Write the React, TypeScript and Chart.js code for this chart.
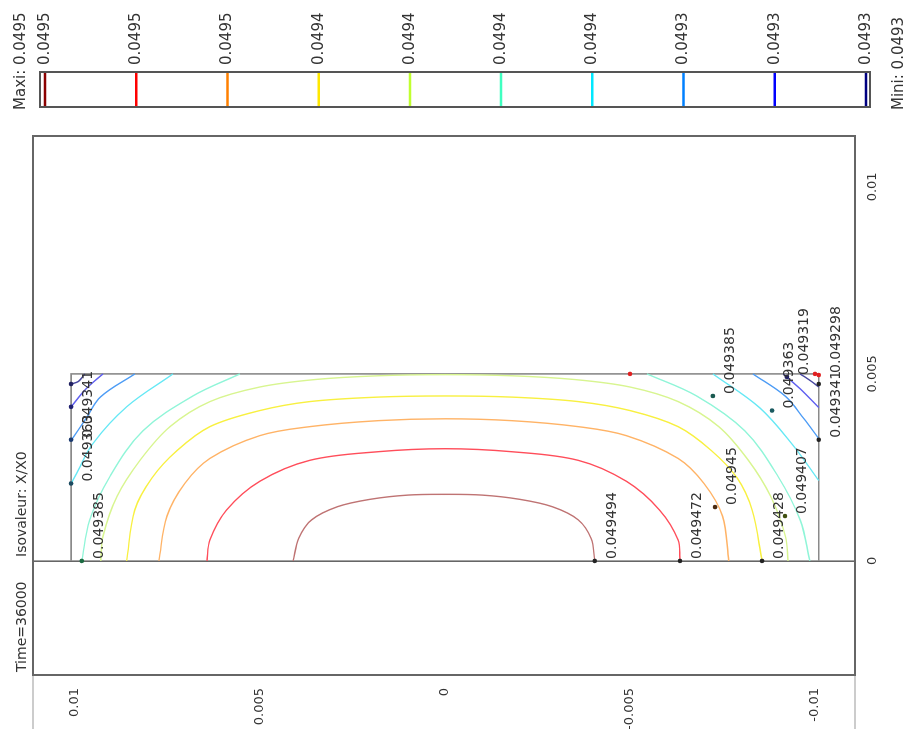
import React, { useEffect, useRef } from "react";
import { Chart, registerables } from "chart.js";

Chart.register(...registerables);

// ---- Data (original, un-rotated coordinates: x = radial, y = axial) ----
const titleTime = "Time=36000";
const titleIso = "Isovaleur: X/X0";
const maxiText = "Maxi: 0.0495";
const miniText = "Mini: 0.0493";

const xTicks = [0, 0.005, 0.01];
const xTickLabels = ["0", "0.005", "0.01"];
const yTicks = [-0.01, -0.005, 0, 0.005, 0.01];
const yTickLabels = ["-0.01", "-0.005", "0", "0.005", "0.01"];
const xMin = -0.00305;
const xMax = 0.01136;
const yMin = -0.01108;
const yMax = 0.01113;

const legendLabels = ["0.0495", "0.0495", "0.0495", "0.0494", "0.0494", "0.0494", "0.0494", "0.0493", "0.0493", "0.0493"];
const legendColors = ["#8b0000", "#ff0000", "#ff8000", "#ffe800", "#c0ff30", "#40ffc0", "#00e8ff", "#0080ff", "#0000ff", "#000080"];
const curveColors = ["#bf7373", "#ff4d5a", "#ffb366", "#f8f040", "#d8f590", "#90f5d8", "#66e8f5", "#4d9cf5", "#6060f0", "#4848a0"];

const domainX = [0, 0.005, 0.005, 0];
const domainY = [0.0101, 0.0101, -0.0101, -0.0101];

const iso049494: [number, number][] = [
  [0, 0.0041], [0.0006, 0.00395], [0.0011, 0.0036], [0.00145, 0.0029], [0.00165, 0.002], [0.00176, 0.001], [0.00178, 0],
  [0.00176, -0.001], [0.00165, -0.002], [0.00145, -0.0029], [0.0011, -0.0036], [0.0006, -0.00395], [0, -0.00405],
];
const iso049472: [number, number][] = [
  [0, 0.00643], [0.00056, 0.00635], [0.00136, 0.0059], [0.00213, 0.005], [0.00269, 0.00365], [0.00292, 0.0018], [0.003, 0],
  [0.00292, -0.0018], [0.00269, -0.0036], [0.00213, -0.0049], [0.00136, -0.0058], [0.00056, -0.0063], [0, -0.00635],
];
const iso04945: [number, number][] = [
  [0, 0.00773], [0.0012, 0.00751], [0.00207, 0.00703], [0.00274, 0.00635], [0.00335, 0.005], [0.00359, 0.00365], [0.00375, 0.0018], [0.0038, 0],
  [0.00375, -0.0018], [0.00359, -0.0036], [0.00335, -0.0049], [0.00274, -0.0063], [0.00207, -0.007], [0.0012, -0.0075], [0, -0.00767],
];
const iso049428: [number, number][] = [
  [0, 0.0086], [0.00136, 0.00838], [0.00221, 0.00792], [0.00295, 0.00724], [0.00359, 0.00635], [0.00402, 0.005], [0.00426, 0.00365], [0.00438, 0.0018], [0.00441, 0],
  [0.00438, -0.0018], [0.00426, -0.0036], [0.00402, -0.005], [0.00359, -0.0063], [0.00295, -0.0072], [0.00221, -0.0079], [0.00136, -0.0083], [0, -0.00857],
];
const iso049407: [number, number][] = [
  [0, 0.0093], [0.00066, 0.00924], [0.00173, 0.00886], [0.00269, 0.00824], [0.00359, 0.00743], [0.00426, 0.00635], [0.00465, 0.005], [0.00485, 0.0035], [0.00495, 0.0018], [0.00498, 0],
  [0.00495, -0.0018], [0.00485, -0.0035], [0.00465, -0.005], [0.00426, -0.0063], [0.00359, -0.0074], [0.00269, -0.0082], [0.00173, -0.0088], [0.00066, -0.0092], [0, -0.00927],
];
const iso049385Left: [number, number][] = [[0, 0.00981], [0.00109, 0.0096], [0.00226, 0.00905], [0.00348, 0.00816], [0.00441, 0.00681], [0.005, 0.00554]];
const iso049385Right: [number, number][] = [[0.005, -0.00546], [0.00441, -0.0068], [0.00348, -0.0081], [0.00226, -0.009], [0.00109, -0.0096], [0, -0.00986]];
const iso049363Left: [number, number][] = [[0.005, 0.00735], [0.00412, 0.0086], [0.00314, 0.00951], [0.00234, 0.00995], [0.00207, 0.0101]];
const iso049363Right: [number, number][] = [[0.005, -0.00724], [0.0041, -0.0085], [0.0031, -0.0094], [0.00215, -0.0101]];
const iso049341Left: [number, number][] = [[0.005, 0.00838], [0.00439, 0.0093], [0.0038, 0.0097], [0.00322, 0.0101]];
const iso049341Right: [number, number][] = [[0.005, -0.00832], [0.0044, -0.0092], [0.0038, -0.0097], [0.00327, -0.0101]];
const iso049319Left: [number, number][] = [[0.005, 0.00924], [0.0046, 0.0097], [0.00412, 0.0101]];
const iso049319Right: [number, number][] = [[0.005, -0.00914], [0.0046, -0.0096], [0.0041, -0.0101]];
const iso049298Left: [number, number][] = [[0.005, 0.00973], [0.0048, 0.0099], [0.00473, 0.0101]];
const iso049298Right: [number, number][] = [[0.005, -0.0096], [0.0048, -0.0099], [0.00465, -0.0101]];

const markerX = [0, 0, 0.00144, 0, 0.0012, 0.00441, 0.00402, 0.00492, 0.00497, 0.00324, 0, 0.00207, 0.00324, 0.00412, 0.00473, 0.00473, 0.005, 0.005];
const markerY = [-0.00405, -0.00635, -0.0073, -0.00857, -0.00919, -0.00724, -0.00884, -0.00924, -0.0101, -0.0101, 0.00981, 0.0101, 0.0101, 0.0101, 0.0101, -0.0101, -0.005, -0.0100];
const markerText = ["0.049494", "0.049472", "0.04945", "0.049428", "0.049407", "0.049385", "0.049363", "0.049319", "0.049298", "0.049341", "0.049385", "0.049363", "0.049341", "", "", "", "", ""];
const markerColors = ["#222", "#222", "#4a2a10", "#222", "#405010", "#1a5a50", "#1a5a60", "#202060", "#e02020", "#222", "#1a6a40", "#1a4a60", "#1a3a70", "#202070", "#202060", "#222", "#e02020", "#e02020"];

const FONT = '"DejaVu Sans", sans-serif';

export default function App() {
  const ref = useRef<HTMLCanvasElement>(null);

  useEffect(() => {
    const canvas = ref.current;
    if (!canvas) return;
    const pts = (a: [number, number][]) => a.map(([x, y]) => ({ x, y }));
    const curves: { data: [number, number][]; c: number }[] = [
      { data: iso049494, c: 0 },
      { data: iso049472, c: 1 },
      { data: iso04945, c: 2 },
      { data: iso049428, c: 3 },
      { data: iso049407, c: 4 },
      { data: iso049385Left, c: 5 },
      { data: iso049385Right, c: 5 },
      { data: iso049363Left, c: 6 },
      { data: iso049363Right, c: 6 },
      { data: iso049341Left, c: 7 },
      { data: iso049341Right, c: 7 },
      { data: iso049319Left, c: 8 },
      { data: iso049319Right, c: 8 },
      { data: iso049298Left, c: 9 },
      { data: iso049298Right, c: 9 },
    ];
    const datasets: any[] = [];
    datasets.push({
      label: "markers",
      data: markerX.map((x, i) => ({ x, y: markerY[i] })),
      showLine: false,
      pointRadius: 2.3,
      pointBorderWidth: 0,
      pointBackgroundColor: markerColors,
      clip: false,
    });
    curves.forEach((cv, i) => {
      datasets.push({
        label: "iso" + i,
        data: pts(cv.data),
        showLine: true,
        pointRadius: 0,
        borderColor: curveColors[cv.c],
        borderWidth: 1.4,
        tension: 0.35,
        clip: false,
      });
    });
    datasets.push({
      label: "domain",
      data: domainX.map((x, i) => ({ x, y: domainY[i] })),
      showLine: true,
      pointRadius: 0,
      borderColor: "#8a8a8a",
      borderWidth: 1.6,
      tension: 0,
      clip: false,
    });

    const framePlugin = {
      id: "frame",
      afterDatasetsDraw(chart: any) {
        const ctx = chart.ctx;
        const { left, right, top, bottom } = chart.chartArea;
        ctx.save();
        ctx.strokeStyle = "#9a9a9a";
        ctx.lineWidth = 1.2;
        ctx.beginPath();
        ctx.moveTo(0, top);
        ctx.lineTo(left, top);
        ctx.moveTo(0, bottom);
        ctx.lineTo(left, bottom);
        ctx.stroke();
        ctx.strokeStyle = "#666";
        ctx.lineWidth = 2;
        ctx.strokeRect(left, top, right - left, bottom - top);
        ctx.restore();
      },
    };

    const labelPlugin = {
      id: "isoLabels",
      afterDatasetsDraw(chart: any) {
        const ctx = chart.ctx;
        const xs = chart.scales.x;
        const ys = chart.scales.y;
        ctx.save();
        ctx.font = "14px " + FONT;
        ctx.fillStyle = "#333";
        ctx.textAlign = "left";
        ctx.textBaseline = "alphabetic";
        markerText.forEach((t, i) => {
          if (!t) return;
          const px = xs.getPixelForValue(markerX[i]);
          const py = ys.getPixelForValue(markerY[i]);
          ctx.fillText(t, px + 2, py + 21);
        });
        ctx.restore();
      },
    };

    const titlePlugin = {
      id: "titles",
      afterDraw(chart: any) {
        const ctx = chart.ctx;
        const { left, top, right, bottom } = chart.chartArea;
        ctx.save();
        ctx.fillStyle = "#333";
        ctx.font = "14px " + FONT;
        ctx.textAlign = "left";
        ctx.textBaseline = "alphabetic";
        ctx.fillText(titleTime, left + 3, top - 7);
        ctx.fillText(titleIso, left + 118, top - 7);

        // colour bar
        const bx = right + 29;
        const bw = 35;
        const by = top + 7;
        const bh = bottom + 15 - by;
        ctx.strokeStyle = "#555";
        ctx.lineWidth = 2;
        ctx.strokeRect(bx, by, bw, bh);
        const y0 = by + 5;
        const y1 = by + bh - 4;
        ctx.font = "15px " + FONT;
        ctx.textBaseline = "middle";
        legendLabels.forEach((lab, i) => {
          const y = y0 + (i * (y1 - y0)) / (legendLabels.length - 1);
          ctx.strokeStyle = legendColors[i];
          ctx.lineWidth = 2.5;
          ctx.beginPath();
          ctx.moveTo(bx + 1, y);
          ctx.lineTo(bx + bw - 1, y);
          ctx.stroke();
          ctx.fillStyle = "#333";
          ctx.fillText(lab, bx + bw + 7, y);
        });
        ctx.fillText(maxiText, bx - 3, top - 12);
        ctx.fillText(miniText, bx - 3, bottom + 44);
        ctx.restore();
      },
    };

    const chart = new Chart(canvas, {
      type: "scatter",
      data: { datasets },
      options: {
        responsive: false,
        devicePixelRatio: 1,
        animation: false,
        layout: { padding: { left: 0, top: 33, right: 136, bottom: 0 } },
        plugins: {
          legend: { display: false },
          title: { display: false },
          tooltip: { enabled: false },
        },
        scales: {
          x: {
            type: "linear",
            position: "bottom",
            min: xMin,
            max: xMax,
            afterBuildTicks: (s: any) => {
              s.ticks = xTicks.map((v) => ({ value: v }));
            },
            afterFit: (s: any) => {
              s.height = 53;
            },
            ticks: {
              autoSkip: false,
              maxRotation: 0,
              minRotation: 0,
              padding: 10,
              color: "#333",
              font: { family: FONT, size: 13 },
              callback: (_v: any, i: number) => xTickLabels[i],
            },
            grid: {
              drawTicks: false,
              lineWidth: 1.6,
              color: (ctx: any) => (ctx.tick && ctx.tick.value === 0 ? "#666" : "rgba(0,0,0,0)"),
            },
            border: { display: false },
          },
          y: {
            type: "linear",
            position: "left",
            min: yMin,
            max: yMax,
            afterBuildTicks: (s: any) => {
              s.ticks = yTicks.map((v) => ({ value: v }));
            },
            afterFit: (s: any) => {
              s.width = 54;
            },
            ticks: {
              autoSkip: false,
              padding: 13,
              color: "#333",
              font: { family: FONT, size: 13 },
              callback: (_v: any, i: number) => yTickLabels[i],
            },
            grid: { display: false, drawTicks: false },
            border: { display: false },
          },
        },
      } as any,
      plugins: [framePlugin, labelPlugin, titlePlugin],
    });
    return () => chart.destroy();
  }, []);

  return (
    <div
      style={{
        position: "fixed",
        left: 0,
        top: 0,
        width: 729,
        height: 908,
        transformOrigin: "0 0",
        transform: "translate(0px, 729px) rotate(-90deg)",
        background: "#fff",
      }}
    >
      <canvas ref={ref} width={729} height={908} style={{ display: "block", width: 729, height: 908 }} />
    </div>
  );
}
